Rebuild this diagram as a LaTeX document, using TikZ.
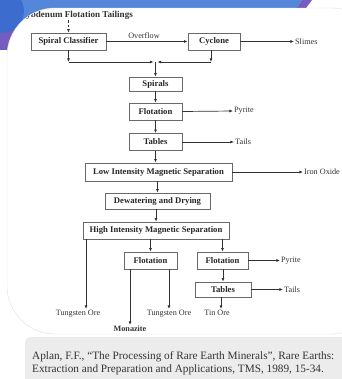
\documentclass[tikz,border=0pt]{standalone}
\usepackage{fontspec}
\setmainfont{Liberation Serif}
\usetikzlibrary{arrows.meta}
\definecolor{bandblue}{RGB}{84,134,218}
\definecolor{circblue}{RGB}{60,108,205}
\definecolor{bandpurple}{RGB}{118,92,192}
\definecolor{linegray}{RGB}{50,50,50}
\definecolor{boxgray}{RGB}{105,105,105}
\definecolor{capgray}{RGB}{236,236,236}
\tikzset{
  procbox/.style={draw=boxgray, line width=0.75bp, fill=white, inner sep=0pt,
    font=\fontsize{8.7}{9}\selectfont\bfseries, text=black!85},
  lbl/.style={inner sep=1bp, font=\fontsize{8.2}{9}\selectfont, text=black!80},
  blbl/.style={inner sep=1bp, font=\fontsize{8.2}{9}\selectfont\bfseries, text=black!80},
  arr/.style={draw=linegray, line width=0.7bp, -{Latex[length=3.6bp,width=3bp]}}
}
\begin{document}
\begin{tikzpicture}[x=1bp,y=-1bp]
\useasboundingbox (0,0) rectangle (342,379);
% background and decoration
\fill[white] (0,0) rectangle (342,379);
\fill[bandblue] (0,0) -- (302,0) -- (294,12) -- (0,12) -- cycle;
\fill[bandblue] (0,0) rectangle (55,50);
\fill[bandpurple] (0,22) rectangle (16,50);
\fill[bandpurple] (302,0) -- (312,0) -- (303,12) -- (294,12) -- cycle;
\fill[circblue] (2,11) circle (22);
% main panel
\fill[white, rounded corners=48bp] (7,8) rectangle (380,334);
\draw[gray!25, line width=0.4bp, rounded corners=48bp] (7,8) rectangle (380,334);
\fill[white] (0,57) rectangle (6.8,333);
% caption panel
\fill[capgray, rounded corners=6bp] (25,337) rectangle (360,395);
\node[anchor=west, align=left, inner sep=0pt,
      font=\fontsize{11.3}{13.3}\selectfont, text=black!80] (cap) at (32,363.5)
  {Aplan, F.F., “The Processing of Rare Earth Minerals”, Rare Earths:\\
   Extraction and Preparation and Applications, TMS, 1989, 15-34.};

% diagram
\begin{scope}
\clip[rounded corners=48bp] (7,8) rectangle (380,334);
\node[blbl, anchor=east, font=\fontsize{9.1}{10}\selectfont\bfseries] (feed) at (134,15) {Molybdenum Flotation Tailings};
\end{scope}

\node[procbox, minimum width=75bp, minimum height=17bp] (sc) at (68.5,41.5) {Spiral Classifier};
\node[procbox, minimum width=52bp, minimum height=17bp] (cyc) at (214,41.5) {Cyclone};
\node[procbox, minimum width=53bp, minimum height=14bp] (spir) at (155.5,84) {Spirals};
\node[procbox, minimum width=53bp, minimum height=17bp] (flot1) at (155.5,111.5) {Flotation};
\node[procbox, minimum width=53bp, minimum height=17bp] (tab1) at (155.5,142) {Tables};
\node[procbox, minimum width=147bp, minimum height=18bp] (lims) at (158.5,172) {Low Intensity Magnetic Separation};
\node[procbox, minimum width=105bp, minimum height=16bp] (dd) at (157.5,201) {Dewatering and Drying};
\node[procbox, minimum width=146bp, minimum height=17bp] (hims) at (156,230.5) {High Intensity Magnetic Separation};
\node[procbox, minimum width=53bp, minimum height=17bp] (flot2) at (150.5,260.5) {Flotation};
\node[procbox, minimum width=51bp, minimum height=17bp] (flot3) at (222.5,260.5) {Flotation};
\node[procbox, minimum width=56bp, minimum height=15bp] (tab2) at (223,289.5) {Tables};

% labels
\node[lbl] (ovf) at (144,35.5) {Overflow};
\node[lbl, anchor=west] (slimes) at (294,41.5) {Slimes};
\node[lbl, anchor=west] (pyr1) at (233,111) {Pyrite};
\node[lbl, anchor=west] (tails1) at (234,142) {Tails};
\node[lbl, anchor=west] (iron) at (303,172) {Iron Oxide};
\node[lbl, anchor=west] (pyr2) at (280,260.5) {Pyrite};
\node[lbl, anchor=west] (tails2) at (283,289.5) {Tails};
\node[lbl, anchor=north] (tung1) at (78,309) {Tungsten Ore};
\node[blbl, anchor=north] (mon) at (130,325) {Monazite};
\node[lbl, anchor=north] (tung2) at (169,309) {Tungsten Ore};
\node[lbl, anchor=north] (tin) at (217,309) {Tin Ore};

% merge coordinates
\coordinate (m) at (155.5,62);
\coordinate (c1) at (68.5,62);
\coordinate (c2) at (211,62);
\coordinate (t1) at (86,309);
\coordinate (t3) at (221,309);

% connectors
\draw[arr, dash pattern=on 2.6bp off 1.6bp] (feed.south -| sc.north) -- (sc.north);
\draw[arr] (sc.east) -- (cyc.west);
\draw[arr] (cyc.east) -- (slimes.west);
\draw[arr] (sc.south -| c1) -- (c1);
\draw[arr] (c1) -- ([xshift=-2bp]m);
\draw[arr] (c2 |- cyc.south) -- (c2);
\draw[arr] (c2) -- ([xshift=2bp]m);
\draw[arr] (m) -- (spir.north);
\draw[arr] (spir) -- (flot1);
\draw[arr] (flot1.east) -- (pyr1.west);
\draw[arr] (flot1) -- (tab1);
\draw[arr] (tab1.east) -- (tails1.west);
\draw[arr] (tab1.south) -- (tab1.south |- lims.north);
\draw[arr] (lims.east) -- (iron.west);
\draw[arr] (lims.south -| dd.north) -- (dd.north);
\draw[arr] (dd.south -| hims.north) -- (hims.north);
\draw[arr] (t1 |- hims.south) -- (t1);
\draw[arr] (flot2.north |- hims.south) -- (flot2.north);
\draw[arr] (flot3.north |- hims.south) -- (flot3.north);
\draw[arr] (flot3.east) -- (pyr2.west);
\draw[arr] (mon.north |- flot2.south) -- (mon.north);
\draw[arr] (tung2.north |- flot2.south) -- (tung2.north);
\draw[arr] (flot3.south -| tab2.north) -- (tab2.north);
\draw[arr] (tab2.east) -- (tails2.west);
\draw[arr] (t3 |- tab2.south) -- (t3);
\end{tikzpicture}
\end{document}
